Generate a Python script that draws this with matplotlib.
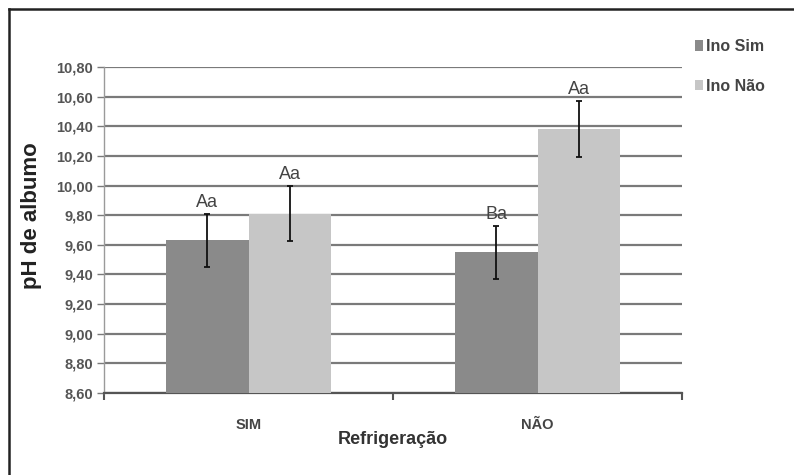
import matplotlib.pyplot as plt
from matplotlib.lines import Line2D
import numpy as np

categories = ["SIM", "NÃO"]
series_names = ["Ino Sim", "Ino Não"]
ino_sim = [9.63, 9.55]
ino_nao = [9.81, 10.38]
ino_sim_err = [0.18, 0.18]
ino_nao_err = [0.185, 0.19]
ino_sim_letters = ["Aa", "Ba"]
ino_nao_letters = ["Aa", "Aa"]
y_ticks = [8.6, 8.8, 9.0, 9.2, 9.4, 9.6, 9.8, 10.0, 10.2, 10.4, 10.6, 10.8]

plt.rcParams["font.family"] = ["Liberation Sans", "DejaVu Sans"]

fig = plt.figure(figsize=(7.94, 4.75), dpi=100)
ax = fig.add_axes([0.131, 0.1726, 0.728, 0.6864])

x = np.arange(len(categories))
w = 0.285
bars1 = ax.bar(x - w / 2, ino_sim, w, bottom=0, color="#8a8a8a", label=series_names[0], zorder=3)
bars2 = ax.bar(x + w / 2, ino_nao, w, bottom=0, color="#c6c6c6", label=series_names[1], zorder=3)
ax.errorbar(x - w / 2, ino_sim, yerr=ino_sim_err, fmt="none", ecolor="#111111",
            elinewidth=1.3, capsize=2.5, capthick=1.3, zorder=4)
ax.errorbar(x + w / 2, ino_nao, yerr=ino_nao_err, fmt="none", ecolor="#111111",
            elinewidth=1.3, capsize=2.5, capthick=1.3, zorder=4)

for xi, v, e, t in zip(x - w / 2, ino_sim, ino_sim_err, ino_sim_letters):
    ax.annotate(t, (xi, v + e), xytext=(0, 2), textcoords="offset points",
                ha="center", va="bottom", fontsize=13, color="#444444")
for xi, v, e, t in zip(x + w / 2, ino_nao, ino_nao_err, ino_nao_letters):
    ax.annotate(t, (xi, v + e), xytext=(0, 2), textcoords="offset points",
                ha="center", va="bottom", fontsize=13, color="#444444")

ax.set_ylim(8.6, 10.8)
ax.set_xlim(-0.5, 1.5)
ax.set_yticks(y_ticks)
ax.set_yticklabels([f"{t:.2f}".replace(".", ",") for t in y_ticks],
                   fontsize=10.5, fontweight="bold", color="#555555")
ax.yaxis.grid(True, color="#7a7a7a", linewidth=1.6, zorder=0)
ax.set_axisbelow(True)
ax.tick_params(axis="y", length=5, width=1, color="#7a7a7a", pad=3)

ax.set_xticks([-0.5, 0.5, 1.5])
ax.set_xticklabels([])
ax.set_xticks(x, minor=True)
ax.set_xticklabels(categories, minor=True, fontsize=10.5,
                   fontweight="bold", color="#444444")
ax.tick_params(axis="x", which="major", length=5, width=1.5, color="#555555")
ax.tick_params(axis="x", which="minor", length=0, pad=18)

for s in ["top", "right"]:
    ax.spines[s].set_visible(False)
ax.spines["left"].set_color("#9a9a9a")
ax.spines["left"].set_linewidth(1)
ax.spines["bottom"].set_color("#555555")
ax.spines["bottom"].set_linewidth(1.6)

ax.set_xlabel("Refrigeração", fontsize=13, fontweight="bold", color="#333333")
ax.xaxis.set_label_coords(0.5, -0.115)
ax.set_ylabel("pH de albumo", fontsize=16, fontweight="bold", color="#222222")
ax.yaxis.set_label_coords(-0.107, 0.545)

fig.legend(handles=[bars1, bars2], loc="upper left", bbox_to_anchor=(0.857, 0.948),
           frameon=False, handlelength=0.5, handleheight=0.6, handletextpad=0.2,
           labelspacing=1.55, prop={"size": 11.5, "weight": "bold"},
           labelcolor="#444444")

fig.add_artist(Line2D([0.0113, 0.0113], [0, 0.981], color="#222222", linewidth=1.8))
fig.add_artist(Line2D([0.0113, 1.0], [0.981, 0.981], color="#222222", linewidth=1.8))

fig.savefig("out.png", dpi=100)
